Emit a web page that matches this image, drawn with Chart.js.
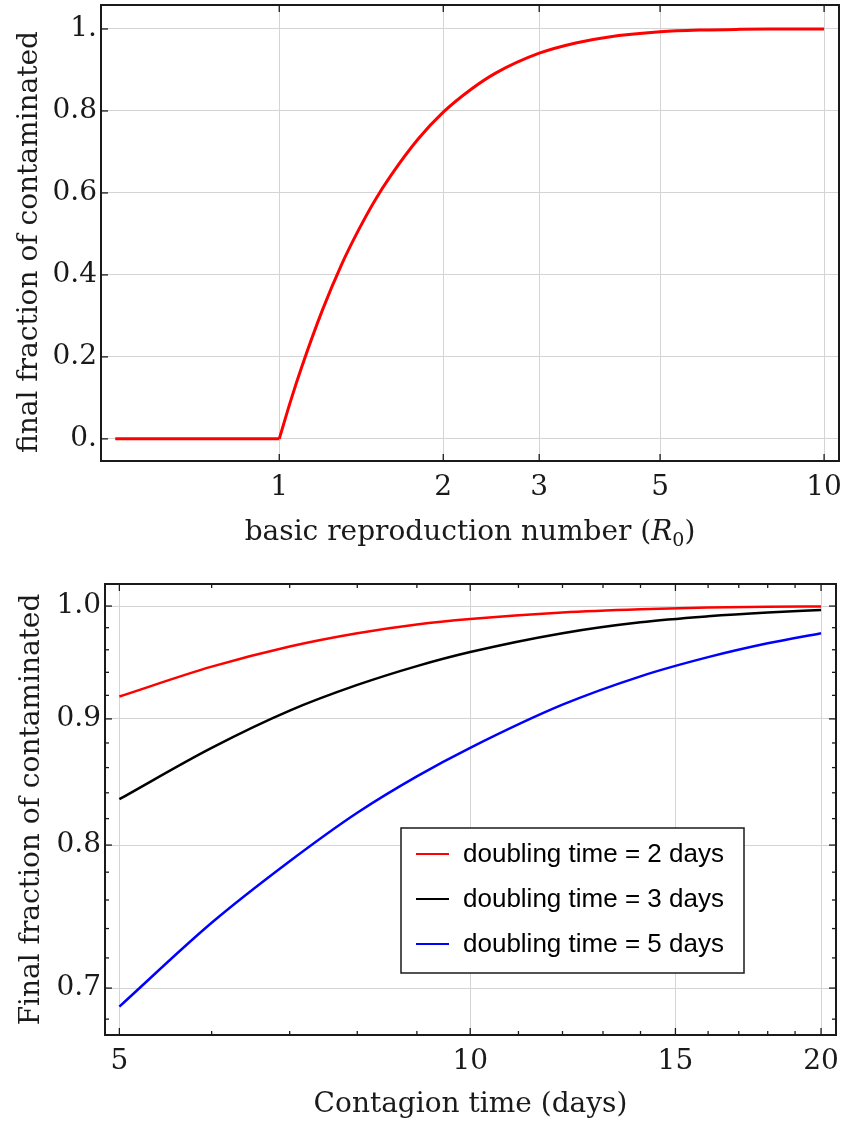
<!DOCTYPE html>
<html>
<head>
<meta charset="utf-8">
<script src="https://cdn.jsdelivr.net/npm/chart.js@4.4.1/dist/chart.umd.min.js"></script>
<style>
  body { margin: 0; background: #fff; }
  canvas { display: block; }
</style>
</head>
<body>
<canvas id="top" width="844" height="560"></canvas>
<canvas id="bottom" width="844" height="563"></canvas>
<script>
// top panel: final size vs R0
const r0Flat = [0.5, 1];
const fractionFlat = [0, 0];
const r0Curve = [1, 1.05, 1.1, 1.2, 1.3, 1.4, 1.5, 1.6, 1.8, 2, 2.25, 2.5, 3, 3.5, 4, 5, 6, 7, 8, 10];
const fractionCurve = [0, 0.094, 0.176, 0.314, 0.424, 0.511, 0.583, 0.641, 0.732, 0.797, 0.853, 0.893, 0.941, 0.966, 0.980, 0.993, 0.9975, 0.9991, 0.9997, 1.0];
const topXTicks = [1, 2, 3, 5, 10];
const topYTicks = [0, 0.2, 0.4, 0.6, 0.8, 1];

// bottom panel: final size vs contagion time
const contagionDays = [5, 6, 7, 8, 9, 10, 12, 14, 16, 18, 20];
const fraction2d = [0.919, 0.945, 0.963, 0.975, 0.983, 0.988, 0.994, 0.997, 0.9986, 0.9993, 0.9996];
const fraction3d = [0.835, 0.876, 0.907, 0.929, 0.9455, 0.958, 0.975, 0.985, 0.9905, 0.994, 0.9963];
const fraction5d = [0.688, 0.744, 0.788, 0.8245, 0.853, 0.876, 0.912, 0.9365, 0.9534, 0.9658, 0.975];
const seriesLabels = ['doubling time = 2 days', 'doubling time = 3 days', 'doubling time = 5 days'];
const bottomXTicks = [5, 10, 15, 20];
const bottomXMinor = [6, 7, 8, 9, 11, 12, 13, 14, 16, 17, 18, 19];
const bottomYTicks = [0.7, 0.8, 0.9, 1.0];
const bottomYMinor = [0.68, 0.72, 0.74, 0.76, 0.78, 0.82, 0.84, 0.86, 0.88, 0.92, 0.94, 0.96, 0.98];

const SERIF = '"DejaVu Serif", serif';
const INK = '#1a1a1a';
const GRID = '#d4d4d4';

Chart.defaults.font.family = SERIF;
Chart.defaults.color = INK;

const pts = (xs, ys) => xs.map((x, i) => ({ x: x, y: ys[i] }));

// frame + inward ticks, Mathematica style
const frameTicks = {
    id: 'frameTicks',
    afterDraw(chart, args, opts) {
        const { ctx, chartArea: a } = chart;
        const xs = chart.scales.x, ys = chart.scales.y;
        const seg = (x1, y1, x2, y2) => { ctx.beginPath(); ctx.moveTo(x1, y1); ctx.lineTo(x2, y2); ctx.stroke(); };
        ctx.save();
        ctx.strokeStyle = INK;
        ctx.lineWidth = 1.3;
        xs.ticks.forEach(t => {
            const px = xs.getPixelForValue(t.value);
            const len = opts.majorX.includes(t.value) ? 7 : 4;
            seg(px, a.bottom, px, a.bottom - len);
            if (opts.mirrorX) seg(px, a.top, px, a.top + len);
        });
        ys.ticks.forEach(t => {
            const py = ys.getPixelForValue(t.value);
            const len = opts.majorY.includes(t.value) ? 7 : 4;
            seg(a.left, py, a.left + len, py);
            if (opts.mirrorY) seg(a.right, py, a.right - len, py);
        });
        ctx.lineWidth = 2;
        ctx.strokeRect(a.left, a.top, a.right - a.left, a.bottom - a.top);
        ctx.restore();
    }
};

// axis titles of the top panel: italic R with subscript 0, and the y title
const topTitles = {
    id: 'topTitles',
    afterDraw(chart) {
        const ctx = chart.ctx;
        const parts = [
            { t: 'basic reproduction number (', f: '28px ' + SERIF, dy: 0 },
            { t: 'R', f: 'italic 28px ' + SERIF, dy: 0 },
            { t: '0', f: '19px ' + SERIF, dy: 6 },
            { t: ')', f: '28px ' + SERIF, dy: 0 }
        ];
        ctx.save();
        ctx.fillStyle = INK;
        ctx.textBaseline = 'alphabetic';
        let total = 0;
        parts.forEach(p => { ctx.font = p.f; p.w = ctx.measureText(p.t).width; total += p.w; });
        const a = chart.chartArea;
        let x = (a.left + a.right) / 2 - total / 2;
        parts.forEach(p => { ctx.font = p.f; ctx.fillText(p.t, x, 540 + p.dy); x += p.w; });

        ctx.translate(37, 242);
        ctx.rotate(-Math.PI / 2);
        ctx.font = '28px ' + SERIF;
        ctx.textAlign = 'center';
        ctx.fillText('final fraction of contaminated', 0, 0);
        ctx.restore();
    }
};

// boxed legend inside the plot
const boxLegend = {
    id: 'boxLegend',
    afterDraw(chart) {
        const ctx = chart.ctx;
        const left = 401, top = 268, w = 343, h = 145;
        ctx.save();
        ctx.fillStyle = '#fff';
        ctx.fillRect(left, top, w, h);
        ctx.strokeStyle = INK;
        ctx.lineWidth = 1.5;
        ctx.strokeRect(left, top, w, h);
        ctx.font = '26px "Liberation Sans", Arial, sans-serif';
        ctx.textBaseline = 'middle';
        chart.data.datasets.forEach((ds, i) => {
            const y = 294 + i * 45;
            ctx.strokeStyle = ds.borderColor;
            ctx.lineWidth = 2;
            ctx.beginPath(); ctx.moveTo(416, y); ctx.lineTo(449, y); ctx.stroke();
            ctx.fillStyle = '#000';
            ctx.fillText(ds.label, 463, y + 1);
        });
        ctx.restore();
    }
};

new Chart(document.getElementById('top'), {
    type: 'line',
    data: {
        datasets: [
            { data: pts(r0Flat, fractionFlat), borderColor: '#ff0000', borderWidth: 3, pointRadius: 0 },
            { data: pts(r0Curve, fractionCurve), borderColor: '#ff0000', borderWidth: 3, pointRadius: 0, cubicInterpolationMode: 'monotone' }
        ]
    },
    options: {
        responsive: false,
        animation: false,
        devicePixelRatio: 1,
        layout: { padding: { top: 5, right: 5, left: 0, bottom: 0 } },
        plugins: {
            legend: { display: false },
            tooltip: { enabled: false },
            frameTicks: { majorX: topXTicks, majorY: topYTicks, mirrorX: true, mirrorY: false }
        },
        scales: {
            x: {
                type: 'logarithmic',
                min: 0.4708,
                max: 10.65,
                afterBuildTicks: s => { s.ticks = topXTicks.map(v => ({ value: v })); },
                afterFit: s => { s.height = 99; s.paddingLeft = 0; s.paddingRight = 0; },
                ticks: { callback: v => String(v), padding: 10, maxRotation: 0, autoSkip: false, font: { size: 28 } },
                grid: { color: GRID, drawTicks: false },
                border: { display: false }
            },
            y: {
                min: -0.054,
                max: 1.0585,
                afterBuildTicks: s => { s.ticks = topYTicks.map(v => ({ value: v })); },
                afterFit: s => { s.width = 101; s.paddingTop = 0; s.paddingBottom = 0; },
                ticks: {
                    callback: v => v === 0 ? '0.' : v === 1 ? '1.' : v.toFixed(1),
                    padding: 4, autoSkip: false, font: { size: 28 }
                },
                grid: { color: GRID, drawTicks: false },
                border: { display: false }
            }
        }
    },
    plugins: [frameTicks, topTitles]
});

const bottomMajorX = v => bottomXTicks.includes(v);
const bottomMajorY = v => bottomYTicks.some(m => Math.abs(m - v) < 1e-9);

new Chart(document.getElementById('bottom'), {
    type: 'line',
    data: {
        datasets: [
            { label: seriesLabels[0], data: pts(contagionDays, fraction2d), borderColor: '#ff0000', borderWidth: 2.5, pointRadius: 0, cubicInterpolationMode: 'monotone' },
            { label: seriesLabels[1], data: pts(contagionDays, fraction3d), borderColor: '#000000', borderWidth: 2.5, pointRadius: 0, cubicInterpolationMode: 'monotone' },
            { label: seriesLabels[2], data: pts(contagionDays, fraction5d), borderColor: '#0000ff', borderWidth: 2.5, pointRadius: 0, cubicInterpolationMode: 'monotone' }
        ]
    },
    options: {
        responsive: false,
        animation: false,
        devicePixelRatio: 1,
        layout: { padding: { top: 24, right: 8, left: 0, bottom: 0 } },
        plugins: {
            legend: { display: false },
            tooltip: { enabled: false },
            frameTicks: { majorX: bottomXTicks, majorY: bottomYTicks, mirrorX: true, mirrorY: true }
        },
        scales: {
            x: {
                type: 'logarithmic',
                min: 4.86,
                max: 20.6,
                afterBuildTicks: s => { s.ticks = bottomXTicks.concat(bottomXMinor).sort((a, b) => a - b).map(v => ({ value: v })); },
                afterFit: s => { s.height = 88; s.paddingLeft = 0; s.paddingRight = 0; },
                ticks: { callback: v => bottomMajorX(v) ? String(v) : '', padding: 10, maxRotation: 0, autoSkip: false, font: { size: 28 } },
                grid: { color: c => c.tick && bottomMajorX(c.tick.value) ? GRID : 'rgba(0,0,0,0)', drawTicks: false },
                border: { display: false },
                title: { display: true, text: 'Contagion time (days)', font: { size: 28 }, padding: { top: 0, bottom: 1 } }
            },
            y: {
                type: 'logarithmic',
                min: 0.6737,
                max: 1.0208,
                afterBuildTicks: s => { s.ticks = bottomYTicks.concat(bottomYMinor).sort((a, b) => a - b).map(v => ({ value: v })); },
                afterFit: s => { s.width = 105; s.paddingTop = 0; s.paddingBottom = 0; },
                ticks: { callback: v => bottomMajorY(v) ? v.toFixed(1) : '', padding: 4, autoSkip: false, font: { size: 28 } },
                grid: { color: c => c.tick && bottomMajorY(c.tick.value) ? GRID : 'rgba(0,0,0,0)', drawTicks: false },
                border: { display: false },
                title: { display: true, text: 'Final fraction of contaminated', font: { size: 28 }, padding: { top: 15, bottom: 0 } }
            }
        }
    },
    plugins: [frameTicks, boxLegend]
});
</script>
</body>
</html>
